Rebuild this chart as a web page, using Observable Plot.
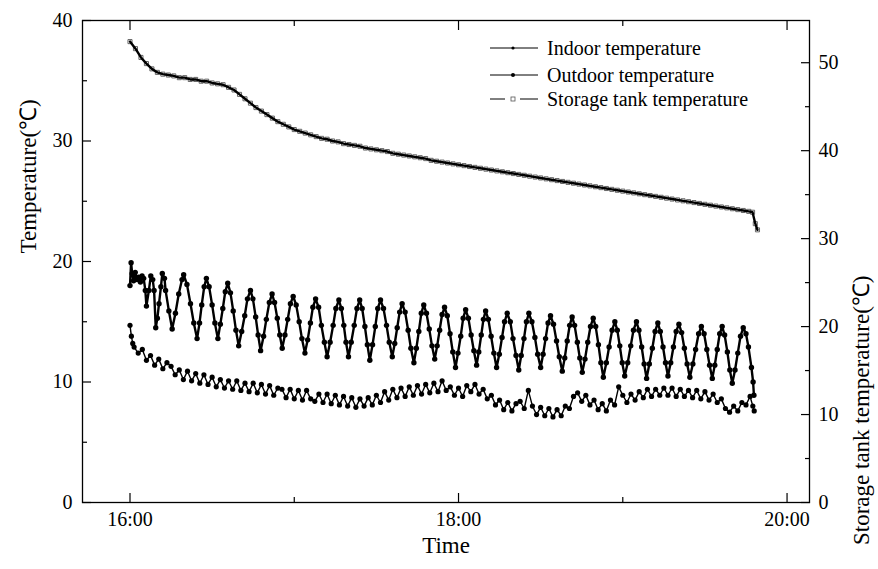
<!DOCTYPE html>
<html><head><meta charset="utf-8">
<script src="https://cdn.jsdelivr.net/npm/d3@7"></script>
<script src="https://cdn.jsdelivr.net/npm/@observablehq/plot@0.6"></script>
<style>
body{margin:0;background:#fff;}
#wrap{position:relative;width:878px;height:569px;font-family:"Liberation Serif","Times New Roman",serif;color:#000;}
.lg{position:absolute;left:490px;height:26px;display:flex;align-items:center;font-size:20px;white-space:nowrap;}
.lg svg{margin-right:8px;}
</style></head><body><div id="wrap"></div>
<script>
// minutes after 16:00
const indoorTime = [
0.0,0.4,0.8,1.3,1.9,2.6,3.1,3.8,4.4,5.0,5.6,6.0,6.9,7.6,8.3,8.8,9.4,10.0,10.6,11.3,11.8,12.6,13.0,14.2,15.4,16.6,17.8,19.0,19.6,
20.8,22.1,23.3,24.5, 25.4,26.2,27.1,27.9, 28.9,30.0,31.0,32.1, 33.0,33.9,34.8,35.7,
36.7,37.7,38.7,39.7, 40.8,41.9,42.9,44.0, 44.9,45.9,46.8,47.7, 48.8,49.8,50.9,51.9,
52.8,53.8,54.7,55.6, 56.6,57.6,58.6,59.6, 60.7,61.8,62.8,63.9, 64.9,65.9,66.8,67.8,
68.9,69.9,71.0,72.0, 73.1,74.2,75.2,76.3, 77.2,78.1,78.9,79.8, 80.8,81.9,82.9,83.9,
84.8,85.8,86.7,87.6, 88.6,89.6,90.5,91.5, 92.6,93.7,94.7,95.8, 96.7,97.6,98.5,99.4,
100.5,101.6,102.6,103.7, 104.6,105.5,106.4,107.3, 108.3,109.3,110.3,111.3, 112.2,113.1,114.0,114.9,
115.9,116.9,117.9,118.9, 119.8,120.8,121.7,122.6, 123.6,124.6,125.6,126.6, 127.4,128.3,129.1,129.9,
130.9,131.9,132.9,133.9, 134.9,135.9,136.8,137.8, 138.9,139.9,141.0,142.0, 142.9,143.9,144.8,145.7,
146.8,147.9,148.9,150.0, 150.9,151.8,152.7,153.6, 154.7,155.8,156.8,157.9, 158.8,159.7,160.6,161.5,
162.4,163.4,164.3,165.2, 166.2,167.2,168.2,169.2, 170.1,171.1,172.0,172.9, 174.0,175.0,176.1,177.1,
178.0,178.9,179.8,180.7, 181.8,182.9,183.9,185.0, 185.9,186.9,187.8,188.7, 189.7,190.8,191.8,192.8,
193.7,194.7,195.6,196.5, 197.5,198.5,199.5,200.5, 201.5,202.5,203.5,204.5, 205.6,206.6,207.7,208.7,
209.7,210.7,211.7,212.7, 213.6,214.5,215.4,216.3, 217.2,218.2,219.1,220.0, 221.0,222.0,223.0,224.0,
225.0,225.9,227.0,227.6,227.9
];
const indoorTemp = [
18.0,19.9,19.0,18.4,19.1,18.5,18.7,18.3,18.8,18.6,17.6,16.3,17.6,18.8,18.5,17.6,14.5,15.3,16.5,17.9,19.0,18.6,17.6,15.9,14.4,15.7,17.3,18.5,18.9,
18.1,16.5,14.9,13.6, 14.9,16.4,17.9,18.6, 17.9,16.4,14.9,13.6, 14.8,16.1,17.5,18.2,
17.4,15.9,14.3,13.0, 14.2,15.5,16.9,17.6, 16.9,15.4,13.9,12.6, 13.8,15.2,16.6,17.3,
16.6,15.3,13.9,12.8, 13.9,15.2,16.5,17.1, 16.4,15.0,13.6,12.4, 13.5,14.9,16.2,16.9,
16.2,14.7,13.3,12.1, 13.3,14.7,16.1,16.8, 16.1,14.7,13.3,12.1, 13.3,14.7,16.1,16.8,
16.1,14.6,13.1,11.8, 13.1,14.6,16.1,16.8, 16.1,14.7,13.3,12.1, 13.2,14.5,15.8,16.5,
15.8,14.3,12.8,11.6, 12.8,14.2,15.7,16.4, 15.7,14.4,13.0,11.9, 13.0,14.3,15.6,16.2,
15.5,14.0,12.5,11.2, 12.4,13.8,15.3,16.0, 15.3,13.9,12.6,11.4, 12.5,13.9,15.2,15.9,
15.2,13.8,12.4,11.2, 12.3,13.7,15.0,15.7, 15.0,13.6,12.2,11.0, 12.2,13.6,15.0,15.7,
15.0,13.7,12.3,11.2, 12.3,13.6,14.9,15.5, 14.8,13.4,12.1,10.9, 12.0,13.4,14.7,15.4,
14.7,13.3,12.0,10.8, 11.9,13.3,14.6,15.3, 14.6,13.1,11.6,10.4, 11.6,12.9,14.3,15.0,
14.3,13.0,11.6,10.5, 11.6,13.0,14.3,15.0, 14.3,12.9,11.5,10.3, 11.5,12.8,14.2,14.9,
14.2,12.9,11.6,10.5, 11.6,12.9,14.2,14.8, 14.1,12.8,11.5,10.4, 11.5,12.7,14.0,14.6,
14.0,12.7,11.4,10.3, 11.4,12.7,14.0,14.6, 13.9,12.5,11.0,9.9, 11.0,12.4,13.8,14.5,
14.0,12.9,11.2,10.0,8.9
];
const outdoorTime = [
0,0.5,1,1.5,3,4.5,6,7.5,9,10.5,12,13.5,
15,16.5,18,19.5,21,22.5,24,25.5,27,28.5,30,31.5,33,34.5,36,37.5,39,40.5,42,43.5,45,46.5,48,49.5,
51,52.5,54,55.5,57,58.5,60,61.5,63,64.5,66,67.5,69,70.5,72,73.5,75,76.5,78,79.5,81,82.5,84,85.5,
87,88.5,90,91.5,93,94.5,96,97.5,99,100.5,102,103.5,105,106.5,108,109.5,111,112.5,114,115.5,
117,118.5,120,121.5,123,124.5,126,127.5,129,130.5,132,133.5,135,136.5,138,139.5,141,142.5,144,145.5,
147,148.5,150,151.5,153,154.5,156,157.5,159,160.5,162,163.5,165,166.5,168,169.5,171,172.5,174,175.5,
177,178.5,180,181.5,183,184.5,186,187.5,189,190.5,192,193.5,195,196.5,198,199.5,201,202.5,204,205.5,
207,208.5,210,211.5,213,214.5,216,217.5,219,220.5,222,223.5,225,226.5,227.5,228
];
const outdoorTemp = [
14.7,13.8,13.2,12.9,12.4,12.7,11.8,12.2,11.4,11.9,11.1,11.6,
11.3,10.6,11.0,10.2,10.9,10.1,10.7,9.9,10.6,9.8,10.4,9.6,10.2,9.5,10.1,9.4,10.1,9.3,9.9,9.2,9.9,9.1,9.8,9.0,
9.7,8.9,9.5,9.4,8.7,9.4,8.6,9.3,8.5,9.3,8.6,8.4,9.0,8.3,9.0,8.2,8.9,8.1,8.8,8.0,8.7,7.9,8.6,8.0,
8.7,8.1,8.9,8.3,9.2,8.5,9.4,8.7,9.5,8.8,9.6,8.9,9.7,9.0,9.8,9.1,9.9,9.2,10.1,9.3,
9.6,8.9,9.5,8.8,9.7,9.2,9.8,9.0,9.4,8.6,8.9,8.1,8.5,7.7,8.3,7.6,8.2,8.4,7.8,9.3,
8.0,7.3,7.9,7.2,7.8,7.1,7.7,7.2,8.0,7.8,8.8,9.1,8.4,8.9,8.1,8.5,7.7,8.2,7.6,8.5,
8.1,9.6,8.9,8.3,9.0,8.5,9.2,8.7,9.4,8.8,9.4,8.9,9.5,8.9,9.5,8.8,9.4,8.8,9.3,8.7,
9.3,8.6,9.2,8.5,9.0,8.3,8.6,7.8,7.5,8.0,7.6,8.3,8.1,8.8,8.0,7.6
];
const tankTime = [
0,2,4,6,8,10,12,14,16,18,20,22,24,26,28,30,32,34,36,38,40,42,44,46,48,50,52,54,56,58,
60,62,64,66,68,70,72,74,76,78,80,82,84,86,88,90,92,94,96,98,100,102,104,106,108,110,112,114,116,118,
120,122,124,126,128,130,132,134,136,138,140,142,144,146,148,150,152,154,156,158,160,162,164,166,168,170,172,174,176,178,
180,182,184,186,188,190,192,194,196,198,200,202,204,206,208,210,212,214,216,218,220,222,224,226,227.4,228.4,229.2
];
const tankTemp = [
52.4,51.6,50.6,49.9,49.3,48.9,48.7,48.6,48.5,48.3,48.3,48.1,48.1,47.9,47.9,47.7,47.6,47.5,47.2,46.9,46.4,45.9,45.4,44.9,44.5,44.1,43.7,43.3,43.0,42.7,
42.4,42.2,42.0,41.8,41.6,41.4,41.3,41.1,41.0,40.8,40.7,40.6,40.5,40.3,40.2,40.1,40.0,39.9,39.7,39.6,39.5,39.4,39.3,39.2,39.1,38.9,38.8,38.7,38.6,38.5,
38.4,38.3,38.2,38.1,38.0,37.9,37.8,37.7,37.6,37.5,37.4,37.3,37.2,37.1,37.0,36.9,36.8,36.7,36.6,36.5,36.4,36.3,36.2,36.1,36.0,35.9,35.8,35.7,35.6,35.5,
35.4,35.3,35.2,35.1,35.0,34.9,34.8,34.7,34.6,34.5,34.4,34.3,34.2,34.1,34.0,33.9,33.8,33.7,33.6,33.5,33.4,33.3,33.2,33.1,33.0,31.7,31.0
];
const seriesNames = ["Indoor temperature","Outdoor temperature","Storage tank temperature"];
const xMajorTicks = [0,120,240];
const xTickLabels = ["16:00","18:00","20:00"];
const xMinorTicks = [60,180];
const leftMajor = [0,10,20,30,40];
const leftMinor = [5,15,25,35];
const rightMajor = [0,10,20,30,40,50];
const rightMinor = [5,15,25,35,45];
const leftMax = 40, rightMax = 54.8;
const k = leftMax / rightMax;

const indoor = indoorTime.map((t,i)=>({t, v: indoorTemp[i]}));
const outdoor = outdoorTime.map((t,i)=>({t, v: outdoorTemp[i]}));
const tank = tankTime.map((t,i)=>({t, v: tankTemp[i] * k}));

const FONT = '"Liberation Serif","Times New Roman",serif';
const MAJ = 9, MIN = 5;

const chart = Plot.plot({
  width: 878, height: 569,
  marginLeft: 82, marginRight: 69, marginTop: 20, marginBottom: 67,
  style: {fontFamily: FONT, fontSize: "20px", color: "#000", background: "#fff", overflow: "visible"},
  x: {domain: [-17.35, 248.2]},
  y: {domain: [0, leftMax]},
  marks: [
    Plot.frame({stroke: "#000", strokeWidth: 1.3}),
    Plot.axisX(xMajorTicks, {anchor: "bottom", tickSize: MAJ, dy: -MAJ, fill: "none", label: null, strokeWidth: 1.2}),
    Plot.axisX(xMinorTicks, {anchor: "bottom", tickSize: MIN, dy: -MIN, fill: "none", label: null, strokeWidth: 1.2}),
    Plot.axisX(xMajorTicks, {anchor: "bottom", tickSize: 0, tickPadding: 9, label: null, fontSize: 20,
      tickFormat: d => xTickLabels[xMajorTicks.indexOf(d)]}),
    Plot.axisX(xMajorTicks, {anchor: "top", tickSize: MAJ, dy: MAJ, fill: "none", label: null, strokeWidth: 1.2}),
    Plot.axisX(xMinorTicks, {anchor: "top", tickSize: MIN, dy: MIN, fill: "none", label: null, strokeWidth: 1.2}),
    Plot.axisY(leftMajor, {anchor: "left", tickSize: MAJ, dx: MAJ, fill: "none", label: null, strokeWidth: 1.2}),
    Plot.axisY(leftMinor, {anchor: "left", tickSize: MIN, dx: MIN, fill: "none", label: null, strokeWidth: 1.2}),
    Plot.axisY(leftMajor, {anchor: "left", tickSize: 0, tickPadding: 10, label: null, fontSize: 20}),
    Plot.axisY(rightMajor.map(v => v * k), {anchor: "right", tickSize: MAJ, dx: -MAJ, fill: "none", label: null, strokeWidth: 1.2}),
    Plot.axisY(rightMinor.map(v => v * k), {anchor: "right", tickSize: MIN, dx: -MIN, fill: "none", label: null, strokeWidth: 1.2}),
    Plot.axisY(rightMajor.map(v => v * k), {anchor: "right", tickSize: 0, tickPadding: 9, label: null, fontSize: 20,
      tickFormat: d => String(Math.round(d / k))}),
    Plot.text(["Time"], {frameAnchor: "bottom", dy: 50, text: d => d, fontSize: 23}),
    Plot.text(["Temperature(℃)"], {frameAnchor: "left", dx: -54, dy: -8, rotate: -90, text: d => d, fontSize: 23}),
    Plot.text(["Storage tank temperature(℃)"], {frameAnchor: "right", dx: 52, dy: 14, rotate: -90, text: d => d, fontSize: 23}),
    // series
    Plot.dot(tank, {x: "t", y: "v", symbol: "square", r: 2.3, fill: "#fff", stroke: "#555", strokeWidth: 0.9}),
    Plot.line(tank, {x: "t", y: "v", stroke: "#000", strokeWidth: 2.4}),
    Plot.line(indoor, {x: "t", y: "v", stroke: "#000", strokeWidth: 2.4}),
    Plot.dot(indoor, {x: "t", y: "v", r: 2.7, fill: "#000"}),
    Plot.line(outdoor, {x: "t", y: "v", stroke: "#000", strokeWidth: 1.4}),
    Plot.dot(outdoor, {x: "t", y: "v", r: 2.6, fill: "#000"})
  ]
});
const wrap = document.getElementById("wrap");
wrap.appendChild(chart);

// legend
const rowTops = [35, 62, 86];
seriesNames.forEach((name, i) => {
  const row = document.createElement("div");
  row.className = "lg";
  row.style.top = rowTops[i] + "px";
  let sample;
  if (i < 2) {
    sample = `<svg width="49" height="10"><line x1="0" y1="5" x2="48" y2="5" stroke="#000" stroke-width="1"/><circle cx="23" cy="5" r="${i===0?1.6:2}" fill="#000"/></svg>`;
  } else {
    sample = `<svg width="49" height="10"><line x1="0" y1="5" x2="15" y2="5" stroke="#000" stroke-width="1"/><line x1="30" y1="5" x2="48" y2="5" stroke="#000" stroke-width="1"/><rect x="21" y="3" width="4" height="4" fill="#fff" stroke="#555" stroke-width="0.8"/></svg>`;
  }
  row.innerHTML = sample + `<span>${name}</span>`;
  wrap.appendChild(row);
});
</script>
</body></html>
